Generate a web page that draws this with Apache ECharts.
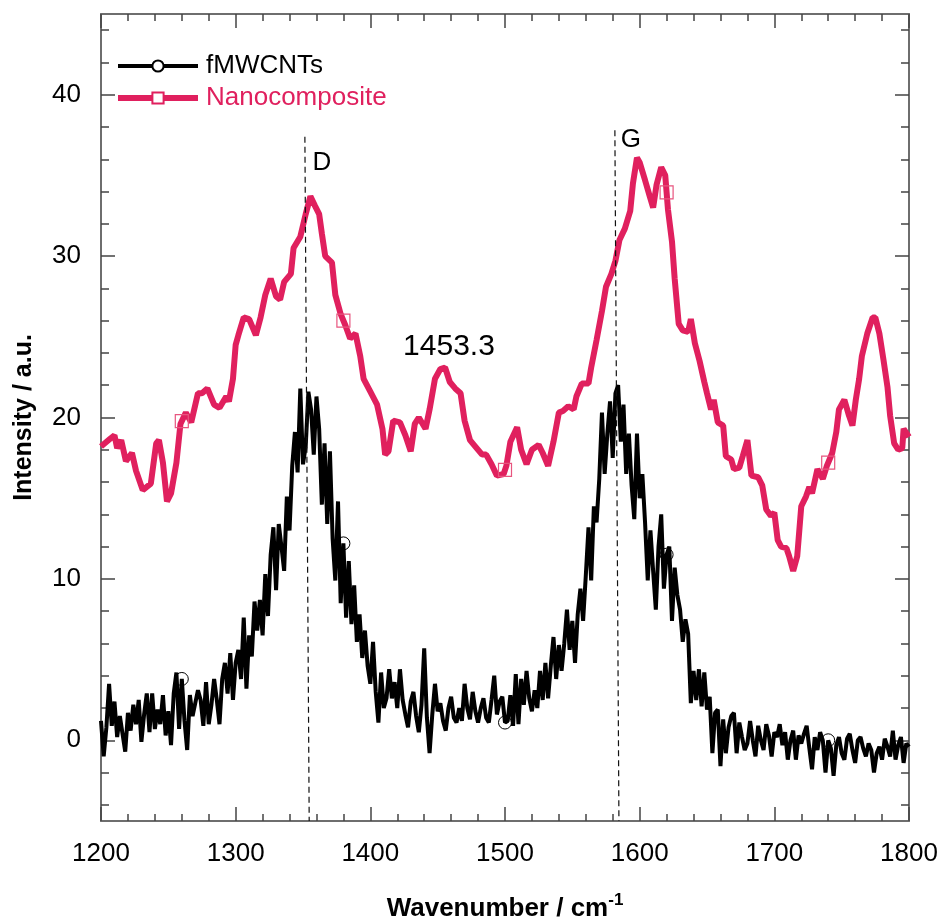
<!DOCTYPE html>
<html>
<head>
<meta charset="utf-8">
<title>Raman spectra</title>
<script src="https://cdn.jsdelivr.net/npm/echarts@6.0.0/dist/echarts.min.js"></script>
<style>
	html, body { margin: 0; padding: 0; background: #fff; }
	#main { width: 940px; height: 918px; }
</style>
</head>
<body>
<div id="main"></div>
<script>
// fMWCNTs spectrum, sampled every 2 cm-1 from 1200 to 1800
const fmwStart = 1200;
const fmwStep = 2;
const fmwY = [
	1.2, -1.0, 0.8, 3.5, 0.9, 2.4, 0.2, 1.5, 0.4, -0.7,
	1.7, 0.6, 2.2, 1.0, 2.5, -0.1, 1.6, 2.9, 0.5, 2.9,
	0.7, 1.9, 1.0, 2.8, 0.3, 1.8, -0.3, 2.9, 4.2, 0.7,
	3.8, 1.2, -0.6, 2.8, 1.5, 2.3, 3.1, 2.5, 0.9, 3.6,
	1.0, 2.2, 3.8, 2.5, 1.0, 3.8, 4.8, 2.9, 5.4, 2.5,
	4.8, 5.6, 3.8, 7.6, 3.2, 6.5, 5.2, 8.6, 6.8, 8.7,
	6.5, 10.3, 7.7, 11.5, 13.2, 9.3, 13.4, 12.0, 10.5, 15.1,
	13.0, 17.0, 19.1, 16.6, 21.8, 17.1, 18.2, 21.6, 20.5, 17.7,
	21.3, 19.3, 14.6, 18.4, 13.4, 17.9, 12.5, 9.9, 14.8, 8.5,
	12.2, 7.6, 11.1, 7.2, 9.6, 6.1, 7.8, 5.1, 6.8, 4.6,
	3.5, 6.1, 3.0, 1.1, 4.2, 2.0, 2.6, 4.4, 2.6, 3.6,
	2.0, 4.4, 2.5, 1.6, 0.8, 2.4, 3.0, 1.5, 0.5, 2.2,
	5.7, 1.4, -0.8, 1.6, 3.5, 1.8, 2.3, 1.2, 0.6, 2.0,
	2.7, 1.4, 1.1, 2.0, 1.2, 3.5, 2.0, 1.3, 3.0, 1.8,
	1.1, 2.0, 2.6, 1.4, 1.1, 2.5, 4.0, 1.6, 2.4, 2.7,
	1.1, 1.2, 2.8, 0.9, 4.1, 1.0, 3.8, 2.2, 4.3, 2.6,
	1.8, 3.1, 2.0, 4.3, 2.5, 4.8, 2.6, 4.6, 6.4, 3.8,
	5.9, 4.3, 6.0, 8.1, 5.6, 7.4, 4.8, 7.8, 9.4, 7.4,
	10.2, 13.2, 9.9, 14.5, 13.5, 16.2, 20.3, 16.5, 19.0, 21.0,
	17.5, 21.5, 22.0, 18.5, 20.8, 16.5, 19.0, 15.8, 13.7, 19.0,
	15.0, 16.5, 13.5, 9.9, 13.0, 10.5, 8.1, 12.0, 14.0, 9.4,
	11.5, 12.0, 7.4, 10.7, 9.0, 8.1, 6.1, 7.5, 6.6, 2.3,
	4.3, 2.5, 4.4, 2.1, 4.2, 1.9, 2.7, -0.8, 1.7, 1.9,
	-1.6, 1.3, -0.8, 0.8, 1.5, 1.7, -0.8, 1.1, 0.2, -0.6,
	-0.2, 1.2, 0.0, -1.0, 0.9, 0.0, -0.6, 1.0, 0.3, -1.0,
	0.5, 0.2, 1.0, -0.3, 0.5, -1.2, 0.0, 0.6, -1.2, 0.3,
	-0.2, 0.4, 0.9, -0.5, -1.8, 0.2, -0.6, 0.5, 0.0, -2.0,
	0.0, -0.5, -2.2, -0.3, 0.2, -0.8, -1.2, 0.1, 0.4, -0.6,
	-1.4, 0.0, 0.2, -0.5, -1.0, -0.2, -0.6, -2.0, -0.8, -0.4,
	-1.2, 0.1, -0.4, -1.0, 0.6, -1.2, -0.3, 0.2, -1.4, -0.2,
	-0.4
];

// Nanocomposite spectrum
const nanoX = [
	1200, 1207, 1210, 1212, 1215, 1218.5, 1223, 1226, 1231, 1237,
	1241, 1243, 1246, 1249, 1252, 1256, 1259, 1263, 1267, 1272,
	1275, 1279, 1284, 1288, 1293, 1295, 1298, 1300, 1302, 1306,
	1310, 1315, 1318.5, 1322, 1326, 1330, 1333, 1336, 1341, 1343,
	1348, 1352, 1355.5, 1359, 1362, 1364, 1366.5, 1371.5, 1374, 1378,
	1381.5, 1385, 1389, 1392.5, 1395, 1400, 1405, 1409, 1411, 1413.5,
	1417, 1422, 1426, 1430, 1433, 1436, 1441, 1444, 1448, 1452,
	1455.5, 1459, 1463, 1467, 1470, 1474, 1478, 1483, 1486, 1490,
	1494, 1499, 1501, 1504, 1509, 1512, 1516, 1520, 1525, 1528,
	1532, 1536, 1540, 1543, 1547, 1551, 1553, 1557, 1562, 1564,
	1568, 1572, 1575, 1579, 1582, 1585, 1589, 1593, 1595, 1598,
	1600, 1604, 1607.5, 1610, 1612.5, 1616, 1619, 1621, 1624, 1626,
	1629, 1632, 1636, 1638, 1641, 1644.5, 1648, 1650, 1653, 1655,
	1658, 1662, 1664, 1668, 1670, 1674, 1676.5, 1680, 1683, 1688,
	1691, 1694, 1697.5, 1700, 1702.5, 1705, 1709, 1711, 1714, 1717,
	1720, 1723.5, 1726, 1728, 1732, 1736, 1739, 1743, 1746, 1748,
	1752, 1755.5, 1758, 1760.5, 1763, 1765, 1769, 1773, 1775, 1778,
	1781, 1784, 1786, 1789, 1792, 1795, 1796, 1800
];
const nanoY = [
	18.2, 18.7, 18.9, 18.1, 18.6, 17.3, 17.8, 16.7, 15.5, 15.9,
	18.4, 18.6, 17.2, 14.8, 15.3, 17.2, 19.6, 20.3, 19.7, 21.5,
	21.5, 21.8, 20.8, 20.6, 21.3, 21.0, 22.4, 24.5, 25.1, 26.2,
	26.1, 25.1, 26.2, 27.6, 28.6, 27.5, 27.3, 28.4, 28.9, 30.5,
	31.2, 32.6, 33.7, 33.1, 32.6, 31.4, 30.0, 29.6, 27.6, 26.4,
	25.7, 24.9, 25.2, 23.8, 22.4, 21.6, 20.8, 19.3, 17.7, 17.9,
	19.8, 19.7, 18.9, 17.9, 19.6, 20.0, 19.3, 20.5, 22.4, 23.0,
	23.1, 22.2, 21.8, 21.5, 19.8, 18.6, 18.2, 17.7, 17.7, 17.1,
	16.4, 16.5, 17.0, 18.5, 19.4, 18.0, 17.1, 18.0, 18.3, 17.8,
	17.0, 18.5, 20.3, 20.4, 20.7, 20.5, 21.3, 22.1, 22.1, 23.1,
	24.8, 26.6, 28.1, 28.9, 29.7, 31.0, 31.7, 32.8, 34.5, 36.1,
	35.8, 34.7, 33.7, 33.0, 34.4, 35.5, 35.0, 32.9, 30.9, 28.6,
	25.8, 25.4, 25.3, 26.1, 24.6, 23.5, 22.2, 21.5, 20.5, 21.1,
	19.7, 19.5, 17.6, 17.4, 16.8, 16.9, 17.6, 18.6, 16.4, 16.3,
	15.8, 14.3, 13.9, 14.1, 12.4, 12.0, 11.9, 11.4, 10.5, 11.4,
	14.5, 15.1, 15.7, 15.3, 16.8, 16.2, 17.0, 17.8, 19.1, 20.5,
	21.1, 20.1, 19.5, 21.1, 22.4, 23.8, 25.2, 26.2, 26.2, 25.2,
	23.6, 21.9, 20.1, 18.4, 18.0, 18.1, 19.3, 18.8
];

// symbols are drawn only every 120 cm-1
const markerX = [1260, 1380, 1500, 1620, 1740];

// axis ticks
const xTicks = [1200, 1300, 1400, 1500, 1600, 1700, 1800];
const yMajor = [0, 10, 20, 30, 40];
const yMinor = [-4, -2, 2, 4, 6, 8, 12, 14, 16, 18, 22, 24, 26, 28, 32, 34, 36, 38, 42, 44];

// band markers (D, G) and peak label
const bandLines = [
	[[1351.4, 37.4], [1354.6, -5]],
	[[1581.6, 37.8], [1584.6, -5]]
];
const annoText = ['D', 'G', '1453.3'];
const annoX = [1364, 1593.5, 1458.4];
const annoY = [35.8, 37.2, 24.4];
const annoSize = [26, 26, 30];

const PINK = '#E0205E';
const FONT = 'Liberation Sans, Arial, sans-serif';

let fmwData = fmwY.map(function (v, i) { return [fmwStart + i * fmwStep, v]; });
let nanoData = nanoX.map(function (x, i) { return [x, nanoY[i]]; });

function interp(data, x) {
	for (let i = 1; i < data.length; i++) {
		if (data[i][0] >= x) {
			let a = data[i - 1], b = data[i];
			let t = (x - a[0]) / (b[0] - a[0]);
			return a[1] + t * (b[1] - a[1]);
		}
	}
	return data[data.length - 1][1];
}

let axisLineStyle = { color: '#6e6e6e', width: 2 };
let tickStyle = { color: '#444', width: 1.5 };

function xAxisOf(pos, labels) {
	return {
		type: 'value', position: pos, min: 1200, max: 1800, interval: 100,
		axisLine: { show: true, onZero: false, lineStyle: axisLineStyle },
		axisTick: { show: true, inside: true, length: 14, lineStyle: tickStyle },
		minorTick: { show: true, splitNumber: 5, length: 7, lineStyle: tickStyle },
		axisLabel: { show: labels, fontSize: 26, color: '#000', fontFamily: FONT, margin: 20,
			customValues: xTicks, formatter: function (v) { return String(v); } },
		splitLine: { show: false },
		minorSplitLine: { show: false }
	};
}

function yAxisOf(pos, ticks, len, line, labels) {
	return {
		type: 'value', position: pos, min: -5, max: 45,
		axisLine: { show: line, onZero: false, lineStyle: axisLineStyle },
		axisTick: { show: true, inside: true, length: len, lineStyle: tickStyle, customValues: ticks },
		axisLabel: { show: labels, fontSize: 26, color: '#000', fontFamily: FONT, margin: 20,
			customValues: yMajor, formatter: function (v) { return String(v); } },
		splitLine: { show: false }
	};
}

let bottomX = xAxisOf('bottom', true);
bottomX.name = '{a|Wavenumber / cm}{sup|-1}';
bottomX.nameLocation = 'middle';
bottomX.nameGap = 71;
bottomX.nameTextStyle = {
	color: '#000', fontFamily: FONT, fontWeight: 'bold',
	rich: {
		a: { fontSize: 26, fontWeight: 'bold', fontFamily: FONT, color: '#000', lineHeight: 34 },
		sup: { fontSize: 17, fontWeight: 'bold', fontFamily: FONT, color: '#000', lineHeight: 34, verticalAlign: 'top' }
	}
};

let leftY = yAxisOf('left', yMajor, 14, true, true);
leftY.name = 'Intensity / a.u.';
leftY.nameLocation = 'middle';
leftY.nameGap = 64;
leftY.nameTextStyle = { color: '#000', fontFamily: FONT, fontWeight: 'bold', fontSize: 25 };

let myChart = echarts.init(document.getElementById('main'));
let option = {
	animation: false,
	backgroundColor: '#fff',
	grid: { left: 101, right: 31, top: 14, bottom: 97, outerBoundsMode: 'none' },
	legend: {
		left: 115, top: 53, orient: 'vertical', itemGap: 6, padding: 0,
		itemWidth: 80, itemHeight: 14,
		textStyle: { fontSize: 26, fontFamily: FONT, padding: [0, 0, 0, 3] },
		lineStyle: { width: 'inherit' },
		data: [
			{ name: 'fMWCNTs', textStyle: { color: '#000' } },
			{ name: 'Nanocomposite', textStyle: { color: PINK } }
		]
	},
	xAxis: [bottomX, xAxisOf('top', false)],
	yAxis: [
		leftY,
		yAxisOf('left', yMinor, 8, false, false),
		yAxisOf('right', yMajor, 14, true, false),
		yAxisOf('right', yMinor, 8, false, false)
	],
	series: [
		{
			name: 'fMWCNTs', type: 'line', data: fmwData,
			showSymbol: false, symbol: 'emptyCircle', symbolSize: 14,
			itemStyle: { color: '#000', borderWidth: 1 },
			lineStyle: { color: '#000', width: 4 },
			markLine: {
				silent: true, symbol: 'none', animation: false,
				label: { show: false },
				lineStyle: { color: '#111', width: 1.2, type: [6, 4] },
				data: bandLines.map(function (l) {
					return [{ coord: l[0] }, { coord: l[1] }];
				})
			},
			z: 2
		},
		{
			name: 'Nanocomposite', type: 'line', data: nanoData,
			showSymbol: false, symbol: 'emptyRect', symbolSize: 14,
			itemStyle: { color: PINK, borderColor: '#E8557F', borderWidth: 1.5 },
			lineStyle: { color: PINK, width: 6 },
			z: 3
		},
		{
			name: 'fMWCNTs marks', type: 'scatter', silent: true,
			symbol: 'circle', symbolSize: 13,
			itemStyle: { color: 'rgba(0,0,0,0)', borderColor: '#000', borderWidth: 1, opacity: 1 },
			data: markerX.map(function (x) { return [x, interp(fmwData, x)]; }),
			z: 4
		},
		{
			name: 'Nanocomposite marks', type: 'scatter', silent: true,
			symbol: 'rect', symbolSize: 13,
			itemStyle: { color: 'rgba(0,0,0,0)', borderColor: '#E8557F', borderWidth: 1.2, opacity: 1 },
			data: markerX.map(function (x) { return [x, interp(nanoData, x)]; }),
			z: 4
		},
		{
			name: 'labels', type: 'scatter', silent: true, symbolSize: 0,
			itemStyle: { opacity: 1 },
			data: annoText.map(function (t, i) {
				return {
					name: t, value: [annoX[i], annoY[i]],
					label: { fontSize: annoSize[i] }
				};
			}),
			label: {
				show: true, position: 'inside', color: '#000', fontFamily: FONT,
				textBorderWidth: 0,
				formatter: function (p) { return p.name; }
			},
			z: 5
		}
	]
};
myChart.setOption(option);
</script>
</body>
</html>
